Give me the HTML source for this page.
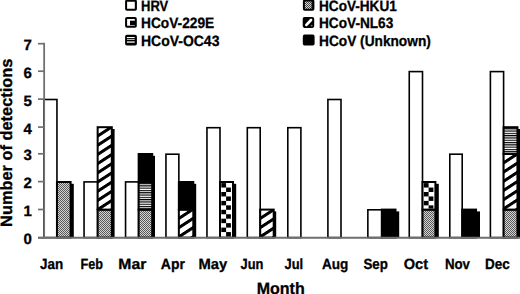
<!DOCTYPE html>
<html><head><meta charset="utf-8"><style>
html,body{margin:0;padding:0;background:#fff;width:520px;height:294px;overflow:hidden}
svg{display:block;font-family:"Liberation Sans",sans-serif}
text{font-family:"Liberation Sans",sans-serif;font-weight:bold;text-rendering:geometricPrecision;stroke:#000;stroke-width:0.3px}
</style></head><body>
<svg width="520" height="294" viewBox="0 0 520 294" font-family="Liberation Sans, sans-serif" font-weight="bold" fill="#000" text-rendering="geometricPrecision">
<defs>
<pattern id="p1" patternUnits="userSpaceOnUse" x="0" y="0" width="2" height="2"><rect width="2" height="2" fill="#d4d4d4"/><rect width="1" height="1" fill="#5a5a5a"/><rect x="1" y="1" width="1" height="1" fill="#5a5a5a"/></pattern>
<pattern id="p2" patternUnits="userSpaceOnUse" x="0" y="0" width="2" height="2"><rect width="2" height="2" fill="#d4d4d4"/><rect width="1" height="1" fill="#5a5a5a"/><rect x="1" y="1" width="1" height="1" fill="#5a5a5a"/></pattern>
<pattern id="p3" patternUnits="userSpaceOnUse" x="0" y="0" width="40" height="9.2" patternTransform="translate(98.65,133.60) skewY(-33)"><rect width="40" height="9.2" fill="#fff"/><rect y="0" width="40" height="3.6" fill="#000"/></pattern>
<pattern id="p4" patternUnits="userSpaceOnUse" x="0" y="0" width="2" height="2"><rect width="2" height="2" fill="#d4d4d4"/><rect width="1" height="1" fill="#5a5a5a"/><rect x="1" y="1" width="1" height="1" fill="#5a5a5a"/></pattern>
<pattern id="p5" patternUnits="userSpaceOnUse" x="0" y="183.00" width="4" height="2.3"><rect width="4" height="2.3" fill="#fff"/><rect width="4" height="1.15" fill="#000"/></pattern>
<pattern id="p6" patternUnits="userSpaceOnUse" x="0" y="0" width="40" height="9.2" patternTransform="translate(179.85,216.00) skewY(-33)"><rect width="40" height="9.2" fill="#fff"/><rect y="0" width="40" height="3.6" fill="#000"/></pattern>
<pattern id="p7" patternUnits="userSpaceOnUse" x="0" y="0" width="40" height="9.2" patternTransform="translate(261.20,216.00) skewY(-33)"><rect width="40" height="9.2" fill="#fff"/><rect y="0" width="40" height="3.6" fill="#000"/></pattern>
<pattern id="p8" patternUnits="userSpaceOnUse" x="0" y="0" width="2" height="2"><rect width="2" height="2" fill="#d4d4d4"/><rect width="1" height="1" fill="#5a5a5a"/><rect x="1" y="1" width="1" height="1" fill="#5a5a5a"/></pattern>
<pattern id="p9" patternUnits="userSpaceOnUse" x="0" y="0" width="2" height="2"><rect width="2" height="2" fill="#d4d4d4"/><rect width="1" height="1" fill="#5a5a5a"/><rect x="1" y="1" width="1" height="1" fill="#5a5a5a"/></pattern>
<pattern id="p10" patternUnits="userSpaceOnUse" x="0" y="0" width="40" height="9.2" patternTransform="translate(504.60,160.40) skewY(-33)"><rect width="40" height="9.2" fill="#fff"/><rect y="0" width="40" height="3.6" fill="#000"/></pattern>
<pattern id="p11" patternUnits="userSpaceOnUse" x="0" y="128.20" width="4" height="2.3"><rect width="4" height="2.3" fill="#fff"/><rect width="4" height="1.15" fill="#000"/></pattern>
<pattern id="lhk" patternUnits="userSpaceOnUse" x="0" y="0" width="2" height="2"><rect width="2" height="2" fill="#d8d8d8"/><rect width="1" height="1" fill="#444"/><rect x="1" y="1" width="1" height="1" fill="#444"/></pattern>
</defs>
<rect x="58.95" y="183.80" width="14.85" height="53.80" fill="#000"/>
<rect x="99.65" y="129.00" width="14.95" height="108.60" fill="#000"/>
<rect x="140.65" y="155.80" width="14.35" height="81.80" fill="#000"/>
<rect x="180.85" y="183.80" width="15.35" height="53.80" fill="#000"/>
<rect x="222.00" y="183.80" width="14.20" height="53.80" fill="#000"/>
<rect x="262.20" y="211.40" width="14.00" height="26.20" fill="#000"/>
<rect x="383.80" y="211.40" width="15.40" height="26.20" fill="#000"/>
<rect x="424.50" y="183.80" width="14.30" height="53.80" fill="#000"/>
<rect x="464.20" y="211.40" width="15.80" height="26.20" fill="#000"/>
<rect x="505.60" y="129.00" width="14.70" height="108.60" fill="#000"/>
<rect x="43.90" y="99.50" width="13.05" height="138.10" fill="#fff" stroke="#000" stroke-width="1.6"/>
<rect x="56.95" y="182.00" width="13.65" height="55.60" fill="url(#p1)" stroke="#000" stroke-width="2.0"/>
<rect x="84.05" y="181.90" width="13.60" height="55.70" fill="#fff" stroke="#000" stroke-width="1.6"/>
<rect x="97.65" y="209.60" width="14.15" height="28.00" fill="url(#p2)" stroke="#000" stroke-width="2.0"/>
<rect x="97.65" y="127.20" width="14.15" height="82.40" fill="url(#p3)" stroke="#000" stroke-width="2.0"/>
<rect x="125.55" y="181.90" width="13.10" height="55.70" fill="#fff" stroke="#000" stroke-width="1.6"/>
<rect x="138.65" y="209.60" width="13.55" height="28.00" fill="url(#p4)" stroke="#000" stroke-width="2.0"/>
<rect x="138.65" y="182.00" width="13.55" height="27.60" fill="url(#p5)" stroke="#000" stroke-width="2.0"/>
<rect x="138.65" y="154.00" width="13.55" height="28.00" fill="#000" stroke="#000" stroke-width="2.0"/>
<rect x="165.95" y="154.20" width="12.90" height="83.40" fill="#fff" stroke="#000" stroke-width="1.6"/>
<rect x="178.85" y="209.60" width="14.45" height="28.00" fill="url(#p6)" stroke="#000" stroke-width="2.0"/>
<rect x="178.85" y="182.00" width="14.45" height="27.60" fill="#000" stroke="#000" stroke-width="2.0"/>
<rect x="206.95" y="127.70" width="13.05" height="109.90" fill="#fff" stroke="#000" stroke-width="1.6"/>
<rect x="220.00" y="182.00" width="13.00" height="55.60" fill="#fff" stroke="#000" stroke-width="2.0"/>
<rect x="221.30" y="183.10" width="4.8" height="4.45" fill="#000"/>
<rect x="226.10" y="187.55" width="4.8" height="4.45" fill="#000"/>
<rect x="221.30" y="192.00" width="4.8" height="4.45" fill="#000"/>
<rect x="226.10" y="196.45" width="4.8" height="4.45" fill="#000"/>
<rect x="221.30" y="200.90" width="4.8" height="4.45" fill="#000"/>
<rect x="226.10" y="205.35" width="4.8" height="4.45" fill="#000"/>
<rect x="221.30" y="209.80" width="4.8" height="4.45" fill="#000"/>
<rect x="226.10" y="214.25" width="4.8" height="4.45" fill="#000"/>
<rect x="221.30" y="218.70" width="4.8" height="4.45" fill="#000"/>
<rect x="226.10" y="223.15" width="4.8" height="4.45" fill="#000"/>
<rect x="221.30" y="227.60" width="4.8" height="4.45" fill="#000"/>
<rect x="226.10" y="232.05" width="4.8" height="4.45" fill="#000"/>
<rect x="247.30" y="127.70" width="12.90" height="109.90" fill="#fff" stroke="#000" stroke-width="1.6"/>
<rect x="260.20" y="209.60" width="13.50" height="28.00" fill="url(#p7)" stroke="#000" stroke-width="2.0"/>
<rect x="287.80" y="127.70" width="13.10" height="109.90" fill="#fff" stroke="#000" stroke-width="1.6"/>
<rect x="327.90" y="99.50" width="13.10" height="138.10" fill="#fff" stroke="#000" stroke-width="1.6"/>
<rect x="367.85" y="209.80" width="13.95" height="27.80" fill="#fff" stroke="#000" stroke-width="1.6"/>
<rect x="381.80" y="209.60" width="13.70" height="28.00" fill="#000" stroke="#000" stroke-width="2.0"/>
<rect x="409.25" y="71.60" width="13.25" height="166.00" fill="#fff" stroke="#000" stroke-width="1.6"/>
<rect x="422.50" y="209.60" width="12.90" height="28.00" fill="url(#p8)" stroke="#000" stroke-width="2.0"/>
<rect x="422.50" y="182.00" width="12.90" height="27.60" fill="#fff" stroke="#000" stroke-width="2.0"/>
<rect x="423.80" y="183.10" width="4.8" height="4.45" fill="#000"/>
<rect x="428.60" y="187.55" width="4.8" height="4.45" fill="#000"/>
<rect x="423.80" y="192.00" width="4.8" height="4.45" fill="#000"/>
<rect x="428.60" y="196.45" width="4.8" height="4.45" fill="#000"/>
<rect x="423.80" y="200.90" width="4.8" height="4.45" fill="#000"/>
<rect x="428.60" y="205.35" width="4.8" height="3.25" fill="#000"/>
<rect x="449.80" y="154.20" width="12.40" height="83.40" fill="#fff" stroke="#000" stroke-width="1.6"/>
<rect x="462.20" y="209.60" width="13.85" height="28.00" fill="#000" stroke="#000" stroke-width="2.0"/>
<rect x="490.40" y="71.60" width="13.20" height="166.00" fill="#fff" stroke="#000" stroke-width="1.6"/>
<rect x="503.60" y="209.60" width="13.85" height="28.00" fill="url(#p9)" stroke="#000" stroke-width="2.0"/>
<rect x="503.60" y="154.00" width="13.85" height="55.60" fill="url(#p10)" stroke="#000" stroke-width="2.0"/>
<rect x="503.60" y="127.20" width="13.85" height="26.80" fill="url(#p11)" stroke="#000" stroke-width="2.0"/>
<line x1="44.15" y1="42.80" x2="44.15" y2="237.60" stroke="#707070" stroke-width="1.8"/>
<line x1="38" y1="237.70" x2="44.15" y2="237.70" stroke="#707070" stroke-width="1.7"/>
<line x1="38" y1="209.50" x2="44.15" y2="209.50" stroke="#707070" stroke-width="1.7"/>
<line x1="38" y1="181.60" x2="44.15" y2="181.60" stroke="#707070" stroke-width="1.7"/>
<line x1="38" y1="153.80" x2="44.15" y2="153.80" stroke="#707070" stroke-width="1.7"/>
<line x1="38" y1="127.10" x2="44.15" y2="127.10" stroke="#707070" stroke-width="1.7"/>
<line x1="38" y1="99.10" x2="44.15" y2="99.10" stroke="#707070" stroke-width="1.7"/>
<line x1="38" y1="71.20" x2="44.15" y2="71.20" stroke="#707070" stroke-width="1.7"/>
<line x1="38" y1="43.70" x2="44.15" y2="43.70" stroke="#707070" stroke-width="1.7"/>
<line x1="38" y1="237.8" x2="520" y2="237.8" stroke="#6e6e6e" stroke-width="2"/>
<text x="31.9" y="244.10" font-size="15.0" text-anchor="end">0</text>
<text x="31.9" y="215.90" font-size="15.0" text-anchor="end">1</text>
<text x="31.9" y="188.00" font-size="15.0" text-anchor="end">2</text>
<text x="31.9" y="160.20" font-size="15.0" text-anchor="end">3</text>
<text x="31.9" y="133.50" font-size="15.0" text-anchor="end">4</text>
<text x="31.9" y="105.50" font-size="15.0" text-anchor="end">5</text>
<text x="31.9" y="77.60" font-size="15.0" text-anchor="end">6</text>
<text x="31.9" y="50.10" font-size="15.0" text-anchor="end">7</text>
<text x="40.1" y="268.6" font-size="14.8" text-anchor="start" textLength="23.1" lengthAdjust="spacingAndGlyphs">Jan</text>
<text x="80.6" y="268.6" font-size="14.8" text-anchor="start" textLength="22.5" lengthAdjust="spacingAndGlyphs">Feb</text>
<text x="118.3" y="268.6" font-size="14.8" text-anchor="start" textLength="28.0" lengthAdjust="spacingAndGlyphs">Mar</text>
<text x="160.8" y="268.6" font-size="14.8" text-anchor="start" textLength="24.1" lengthAdjust="spacingAndGlyphs">Apr</text>
<text x="198.4" y="268.6" font-size="14.8" text-anchor="start" textLength="28.7" lengthAdjust="spacingAndGlyphs">May</text>
<text x="240.6" y="268.6" font-size="14.8" text-anchor="start" textLength="22.9" lengthAdjust="spacingAndGlyphs">Jun</text>
<text x="284.5" y="268.6" font-size="14.8" text-anchor="start" textLength="18.7" lengthAdjust="spacingAndGlyphs">Jul</text>
<text x="321.9" y="268.6" font-size="14.8" text-anchor="start" textLength="26.4" lengthAdjust="spacingAndGlyphs">Aug</text>
<text x="363.4" y="268.6" font-size="14.8" text-anchor="start" textLength="24.4" lengthAdjust="spacingAndGlyphs">Sep</text>
<text x="403.7" y="268.6" font-size="14.8" text-anchor="start" textLength="24.4" lengthAdjust="spacingAndGlyphs">Oct</text>
<text x="444.9" y="268.6" font-size="14.8" text-anchor="start" textLength="25.1" lengthAdjust="spacingAndGlyphs">Nov</text>
<text x="484.9" y="268.6" font-size="14.8" text-anchor="start" textLength="24.8" lengthAdjust="spacingAndGlyphs">Dec</text>
<text x="256.7" y="293.6" font-size="16.5" text-anchor="start" textLength="48" lengthAdjust="spacingAndGlyphs">Month</text>
<text transform="translate(12.2,226.9) rotate(-90)" font-size="16.5" textLength="168.3" lengthAdjust="spacingAndGlyphs">Number of detections</text>
<text x="141.0" y="11.1" font-size="15.0" text-anchor="start" textLength="27.2" lengthAdjust="spacingAndGlyphs">HRV</text>
<text x="141.0" y="28.4" font-size="15.0" text-anchor="start" textLength="73.2" lengthAdjust="spacingAndGlyphs">HCoV-229E</text>
<text x="141.0" y="46.0" font-size="15.0" text-anchor="start" textLength="78.4" lengthAdjust="spacingAndGlyphs">HCoV-OC43</text>
<text x="319.0" y="11.1" font-size="15.0" text-anchor="start" textLength="77.8" lengthAdjust="spacingAndGlyphs">HCoV-HKU1</text>
<text x="319.0" y="28.4" font-size="15.0" text-anchor="start" textLength="74.3" lengthAdjust="spacingAndGlyphs">HCoV-NL63</text>
<text x="319.0" y="46.0" font-size="15.0" text-anchor="start" textLength="111.8" lengthAdjust="spacingAndGlyphs">HCoV (Unknown)</text>
<rect x="126.10" y="0.70" width="9.80" height="9.00" fill="#fff" stroke="#000" stroke-width="2" rx="0.8"/>
<rect x="134.9" y="0.8" width="1.2" height="9.4" fill="#000"/>
<rect x="126.10" y="18.00" width="9.70" height="8.80" fill="#fff" stroke="#000" stroke-width="2" rx="0.8"/>
<rect x="130" y="20.7" width="5.2" height="4.5" fill="#000"/>
<rect x="126.10" y="35.80" width="9.80" height="8.80" fill="#000" stroke="#000" stroke-width="2" rx="0.8"/>
<rect x="126.9" y="37.0" width="7.8" height="1.1" fill="#fff"/>
<rect x="126.9" y="39.0" width="7.8" height="0.8" fill="#ddd"/>
<rect x="126.9" y="41.4" width="7.8" height="1.3" fill="#fff"/>
<rect x="303.90" y="0.60" width="9.50" height="9.20" fill="url(#lhk)" stroke="#000" stroke-width="2" rx="0.8"/>
<rect x="311.6" y="0.6" width="1.2" height="9.4" fill="#000"/>
<rect x="303.70" y="17.90" width="9.50" height="9.00" fill="#000" stroke="#000" stroke-width="2" rx="0.8"/>
<line x1="306.4" y1="24.9" x2="311.0" y2="20.0" stroke="#fff" stroke-width="2.7" stroke-linecap="round"/>
<circle cx="311.7" cy="25.6" r="0.9" fill="#777"/>
<rect x="303.80" y="35.60" width="9.80" height="9.00" fill="#000" stroke="#000" stroke-width="2" rx="0.8"/>
</svg>
</body></html>
